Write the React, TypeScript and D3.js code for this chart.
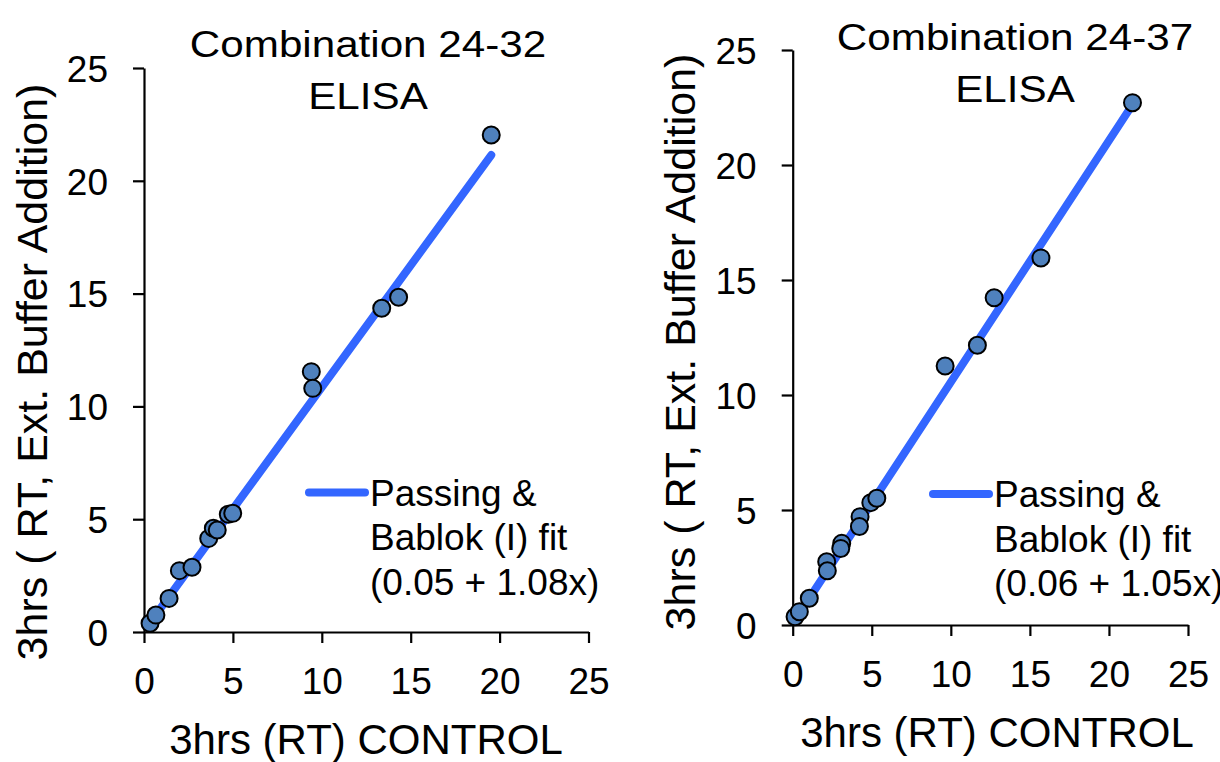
import { useRef, useEffect } from "react";
import * as d3 from "d3";

// Combination 24-32 (ELISA)
const leftX = [0.34, 0.67, 1.41, 1.99, 2.7, 3.64, 3.9, 4.12, 4.74, 4.99, 9.41, 9.49, 13.37, 14.32, 19.53];
const leftY = [0.39, 0.75, 1.49, 2.72, 2.87, 4.15, 4.6, 4.52, 5.22, 5.26, 11.54, 10.8, 14.35, 14.84, 22.03];
const leftFit = { a: 0.05, b: 1.08 };

// Combination 24-37 (ELISA)
const rightX = [0.15, 0.42, 1.05, 2.15, 2.19, 3.1, 3.04, 4.26, 4.22, 4.94, 5.32, 9.64, 11.68, 12.74, 15.7, 21.49];
const rightY = [0.36, 0.58, 1.16, 2.75, 2.36, 3.55, 3.33, 4.71, 4.28, 5.32, 5.51, 11.26, 12.16, 14.23, 15.96, 22.71];
const rightFit = { a: 0.06, b: 1.05 };

const ticks = [0, 5, 10, 15, 20, 25];
const xLabel = "3hrs (RT) CONTROL";
const yLabel = "3hrs ( RT, Ext. Buffer Addition)";
const legendLines = ["Passing &", "Bablok (I) fit"];

const FONT = "'Liberation Sans', Arial, sans-serif";

export default function App() {
  const svgRef = useRef<SVGSVGElement>(null);

  useEffect(() => {
    const svg = d3.select(svgRef.current);
    svg.selectAll("*").remove();

    const panels = [
      {
        xs: leftX, ys: leftY, fit: leftFit, title: "Combination 24-32",
        xr: [144, 588.5], yr: [632, 68],
        titleX: 368, titleY: 43.5, xLabX: 366, xLabY: 739, yLabX: 32, yLabY: 372,
        legX: 309, legY: 492.5,
      },
      {
        xs: rightX, ys: rightY, fit: rightFit, title: "Combination 24-37",
        xr: [792.7, 1188], yr: [625, 50],
        titleX: 1015, titleY: 37, xLabX: 997, xLabY: 732, yLabX: 680, yLabY: 342,
        legX: 933, legY: 494,
      },
    ];

    panels.forEach(p => {
      const g = svg.append("g");
      const x = d3.scaleLinear().domain([0, 25]).range(p.xr);
      const y = d3.scaleLinear().domain([0, 25]).range(p.yr);

      // Axes
      const xAxis = g.append("g")
        .attr("transform", `translate(0,${p.yr[0]})`)
        .call(d3.axisBottom(x).tickValues(ticks).tickSize(11).tickSizeOuter(0).tickPadding(25));
      const yAxis = g.append("g")
        .attr("transform", `translate(${p.xr[0]},0)`)
        .call(d3.axisLeft(y).tickValues(ticks).tickSize(11).tickSizeOuter(0).tickPadding(25));
      [xAxis, yAxis].forEach(a => {
        a.select(".domain").attr("stroke", "#000").attr("stroke-width", 2.2);
        a.selectAll(".tick line").attr("stroke", "#000").attr("stroke-width", 2.2);
        a.selectAll(".tick text")
          .attr("fill", "#000")
          .style("font-family", FONT)
          .style("font-size", "37px");
      });
      xAxis.selectAll(".tick text").attr("dy", "0.71em");
      yAxis.selectAll(".tick text").attr("dy", "0.36em");

      // Fit line
      const pts = p.xs.map((v, i) => ({ x: v, y: p.ys[i] }));
      const [x0, x1] = d3.extent(p.xs) as [number, number];
      const line = d3.line<number>()
        .x(d => x(d))
        .y(d => y(p.fit.a + p.fit.b * d));
      g.append("path")
        .datum([x0, x1])
        .attr("fill", "none")
        .attr("stroke", "#3366ff")
        .attr("stroke-width", 8)
        .attr("stroke-linecap", "round")
        .attr("d", line);

      // Points
      g.selectAll("circle.pt")
        .data(pts)
        .enter()
        .append("circle")
        .attr("class", "pt")
        .attr("cx", d => x(d.x))
        .attr("cy", d => y(d.y))
        .attr("r", 8.5)
        .attr("fill", "#4f81bd")
        .attr("stroke", "#000")
        .attr("stroke-width", 2);

      // Title (a bit wider than plain Arial in the original)
      const title = g.append("g")
        .attr("transform", `translate(${p.titleX},0) scale(1.14,1)`)
        .append("text")
        .attr("text-anchor", "middle")
        .style("font-family", FONT)
        .style("font-size", "37px")
        .attr("fill", "#000");
      title.append("tspan").attr("x", 0).attr("y", p.titleY).attr("dy", "0.36em").text(p.title);
      title.append("tspan").attr("x", 0).attr("y", p.titleY + 52).attr("dy", "0.36em").text("ELISA");

      // Axis titles
      g.append("text")
        .attr("x", p.xLabX)
        .attr("y", p.xLabY)
        .attr("dy", "0.36em")
        .attr("text-anchor", "middle")
        .style("font-family", FONT)
        .style("font-size", "42px")
        .text(xLabel);
      g.append("text")
        .attr("transform", `translate(${p.yLabX},${p.yLabY}) rotate(-90)`)
        .attr("dy", "0.36em")
        .attr("text-anchor", "middle")
        .style("font-family", FONT)
        .style("font-size", "43px")
        .text(yLabel);

      // Legend
      g.append("line")
        .attr("x1", p.legX).attr("x2", p.legX + 56)
        .attr("y1", p.legY).attr("y2", p.legY)
        .attr("stroke", "#3366ff")
        .attr("stroke-width", 8)
        .attr("stroke-linecap", "round");
      const leg = g.append("text")
        .style("font-family", FONT)
        .style("font-size", "37px")
        .attr("fill", "#000");
      const eq = `(${p.fit.a.toFixed(2)} + ${p.fit.b.toFixed(2)}x)`;
      [...legendLines, eq].forEach((t, i) => {
        leg.append("tspan")
          .attr("x", p.legX + 61)
          .attr("y", p.legY + i * 44.5)
          .attr("dy", "0.36em")
          .text(t);
      });
    });
  }, []);

  return (
    <svg
      ref={svgRef}
      width={1220}
      height={762}
      style={{ position: "absolute", left: 0, top: 0, background: "#fff" }}
    />
  );
}
